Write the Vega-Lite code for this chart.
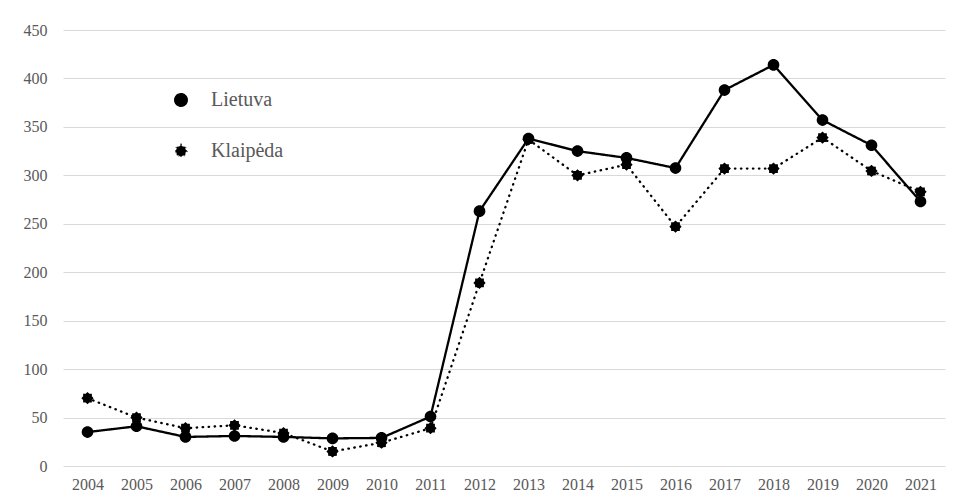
{
  "$schema": "https://vega.github.io/schema/vega-lite/v6.json",
  "width": 882,
  "height": 436,
  "autosize": "none",
  "padding": {"left": 63, "top": 30, "right": 14, "bottom": 36},
  "background": "white",
  "config": {
    "view": {"stroke": null},
    "font": "Liberation Serif",
    "axis": {"labelFont": "Liberation Serif", "labelFontSize": 16, "labelColor": "#595959", "domain": false, "ticks": false, "title": null}
  },
  "data": {
    "values": [
      {"year": "2004", "series": "Lietuva", "value": 35},
      {"year": "2005", "series": "Lietuva", "value": 41},
      {"year": "2006", "series": "Lietuva", "value": 30},
      {"year": "2007", "series": "Lietuva", "value": 31},
      {"year": "2008", "series": "Lietuva", "value": 30},
      {"year": "2009", "series": "Lietuva", "value": 28.5},
      {"year": "2010", "series": "Lietuva", "value": 29},
      {"year": "2011", "series": "Lietuva", "value": 51},
      {"year": "2012", "series": "Lietuva", "value": 263},
      {"year": "2013", "series": "Lietuva", "value": 338},
      {"year": "2014", "series": "Lietuva", "value": 325},
      {"year": "2015", "series": "Lietuva", "value": 318},
      {"year": "2016", "series": "Lietuva", "value": 307.5},
      {"year": "2017", "series": "Lietuva", "value": 388},
      {"year": "2018", "series": "Lietuva", "value": 414},
      {"year": "2019", "series": "Lietuva", "value": 357},
      {"year": "2020", "series": "Lietuva", "value": 331},
      {"year": "2021", "series": "Lietuva", "value": 273},
      {"year": "2004", "series": "Klaipėda", "value": 70},
      {"year": "2005", "series": "Klaipėda", "value": 50},
      {"year": "2006", "series": "Klaipėda", "value": 39},
      {"year": "2007", "series": "Klaipėda", "value": 42},
      {"year": "2008", "series": "Klaipėda", "value": 34},
      {"year": "2009", "series": "Klaipėda", "value": 15},
      {"year": "2010", "series": "Klaipėda", "value": 24},
      {"year": "2011", "series": "Klaipėda", "value": 39},
      {"year": "2012", "series": "Klaipėda", "value": 189},
      {"year": "2013", "series": "Klaipėda", "value": 337},
      {"year": "2014", "series": "Klaipėda", "value": 300},
      {"year": "2015", "series": "Klaipėda", "value": 311},
      {"year": "2016", "series": "Klaipėda", "value": 247},
      {"year": "2017", "series": "Klaipėda", "value": 307},
      {"year": "2018", "series": "Klaipėda", "value": 307},
      {"year": "2019", "series": "Klaipėda", "value": 339},
      {"year": "2020", "series": "Klaipėda", "value": 304.5},
      {"year": "2021", "series": "Klaipėda", "value": 283}
    ]
  },
  "encoding": {
    "x": {
      "field": "year",
      "type": "ordinal",
      "axis": {"labelAngle": 0, "labelPadding": 10, "grid": false}
    },
    "y": {
      "field": "value",
      "type": "quantitative",
      "scale": {"domain": [0, 450], "nice": false},
      "axis": {"values": [0, 50, 100, 150, 200, 250, 300, 350, 400, 450], "grid": true, "gridColor": "#d9d9d9", "gridWidth": 1, "labelPadding": 16}
    },
    "color": {
      "field": "series",
      "type": "nominal",
      "scale": {"domain": ["Lietuva", "Klaipėda"], "range": ["#000000", "#000000"]},
      "legend": {
        "orient": "none",
        "legendX": 108,
        "legendY": 60,
        "title": null,
        "labelFont": "Liberation Serif",
        "labelFontSize": 20,
        "labelColor": "#595959",
        "symbolSize": 150,
        "labelOffset": 20,
        "rowPadding": 29,
        "symbolStrokeWidth": 2.3,
        "symbolOpacity": 1
      }
    }
  },
  "layer": [
    {
      "mark": {"type": "line", "strokeWidth": 2.3, "strokeCap": "round"},
      "encoding": {
        "strokeDash": {
          "field": "series",
          "type": "nominal",
          "scale": {"domain": ["Lietuva", "Klaipėda"], "range": [[1, 0], [0.5, 5.5]]},
          "legend": null
        }
      }
    },
    {
      "mark": {"type": "point", "filled": true, "opacity": 1, "size": 150},
      "encoding": {
        "shape": {
          "field": "series",
          "type": "nominal",
          "scale": {
            "domain": ["Lietuva", "Klaipėda"],
            "range": ["M0.95,0A0.95,0.95,0,1,1,-0.95,0A0.95,0.95,0,1,1,0.95,0Z", "M1,0L0.72,0.3L0.71,0.71L0.3,0.72L0,1L-0.3,0.72L-0.71,0.71L-0.72,0.3L-1,0L-0.72,-0.3L-0.71,-0.71L-0.3,-0.72L0,-1L0.3,-0.72L0.71,-0.71L0.72,-0.3Z"]
          },
          "legend": null
        }
      }
    }
  ]
}
